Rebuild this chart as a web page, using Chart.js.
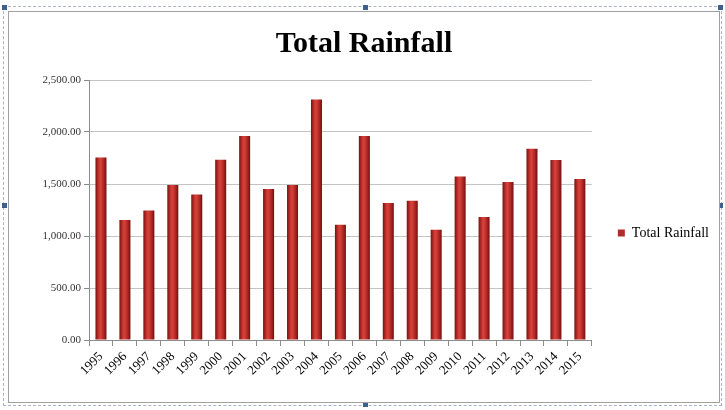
<!DOCTYPE html>
<html>
<head>
<meta charset="utf-8">
<script src="https://cdn.jsdelivr.net/npm/chart.js@4.4.0/dist/chart.umd.min.js"></script>
<style>
  html, body { margin: 0; padding: 0; background: #fff; }
  body { width: 725px; height: 410px; position: relative; overflow: hidden; }
  .sel { position: absolute; left: 3px; top: 6px; width: 717px; height: 398px; border: 1px dashed #a8b4c8; }
  .frame { position: absolute; left: 8px; top: 11px; width: 710px; height: 390px; border: 1px solid #a0a0a0; background: #fff; }
  .handle { position: absolute; width: 5px; height: 5px; background: #3f5f8f; }
</style>
</head>
<body>
<div class="sel"></div>
<div class="handle" style="left:2px;top:5px"></div>
<div class="handle" style="left:363px;top:5px"></div>
<div class="handle" style="left:718px;top:5px"></div>
<div class="handle" style="left:2px;top:203px"></div>
<div class="handle" style="left:718px;top:203px"></div>
<div class="handle" style="left:363px;top:402px"></div>
<div class="frame"><canvas id="rainChart" width="710" height="390"></canvas></div>
<script>
// years and rainfall totals
const years = ['1995', '1996', '1997', '1998', '1999', '2000', '2001', '2002', '2003', '2004', '2005',
  '2006', '2007', '2008', '2009', '2010', '2011', '2012', '2013', '2014', '2015'];
const rainfall = [1755, 1155, 1245, 1490, 1400, 1732, 1962, 1452, 1490, 2312, 1108,
  1962, 1318, 1338, 1060, 1572, 1183, 1520, 1840, 1730, 1547];
const yTicks = [0, 500, 1000, 1500, 2000, 2500];

const BAR_SHARE = 0.46;

// cylinder look: shading across each bar
function barFill(context) {
  const chart = context.chart;
  const xs = chart.scales.x;
  if (!xs || context.dataIndex === undefined) return '#b82a28';
  const cx = xs.getPixelForValue(context.dataIndex);
  const w = (xs.width / years.length) * BAR_SHARE;
  const g = chart.ctx.createLinearGradient(cx - w / 2, 0, cx + w / 2, 0);
  g.addColorStop(0, '#761212');
  g.addColorStop(0.3, '#c8342f');
  g.addColorStop(0.45, '#d6433c');
  g.addColorStop(0.75, '#b02622');
  g.addColorStop(1, '#6e1010');
  return g;
}

new Chart(document.getElementById('rainChart'), {
  type: 'bar',
  data: {
    labels: years,
    datasets: [{
      label: 'Total Rainfall',
      data: rainfall,
      backgroundColor: barFill,
      borderWidth: 0,
      categoryPercentage: 1,
      barPercentage: BAR_SHARE
    }]
  },
  options: {
    responsive: false,
    animation: false,
    layout: { padding: { left: 0, right: 0, top: 0, bottom: 4 } },
    plugins: {
      title: {
        display: true,
        text: 'Total Rainfall',
        color: '#000',
        font: { family: 'Liberation Serif', size: 30, weight: 'bold' },
        padding: { top: 14, bottom: 18 }
      },
      legend: {
        position: 'right',
        // empty title only pushes the single entry down, as in the picture
        title: { display: true, text: ' ', font: { size: 30 }, padding: 10 },
        labels: {
          color: '#000',
          font: { family: 'Liberation Serif', size: 14 },
          boxWidth: 7,
          boxHeight: 7,
          padding: 26,
          generateLabels: chart => [{
            text: 'Total Rainfall',
            fillStyle: '#b52a28',
            strokeStyle: '#b52a28',
            fontColor: '#000',
            lineWidth: 0,
            hidden: false,
            datasetIndex: 0
          }]
        }
      },
      tooltip: { enabled: false }
    },
    scales: {
      x: {
        afterFit: s => { s.height = 58; },
        grid: { display: true, drawOnChartArea: false, offset: true, tickLength: 6, color: '#8c8c8c' },
        border: { color: '#8c8c8c' },
        ticks: {
          color: '#000',
          font: { family: 'Liberation Serif', size: 13 },
          autoSkip: false,
          minRotation: 45,
          maxRotation: 45,
          padding: 3
        }
      },
      y: {
        min: 0,
        max: 2500,
        afterBuildTicks: s => { s.ticks = yTicks.map(v => ({ value: v })); },
        afterFit: s => { s.width = 80; },
        grid: { color: '#c4c4c4', tickLength: 5, tickColor: '#8c8c8c' },
        border: { color: '#8c8c8c' },
        ticks: {
          color: '#333',
          font: { family: 'Liberation Serif', size: 11 },
          padding: 3,
          callback: v => v.toLocaleString('en-US', { minimumFractionDigits: 2, maximumFractionDigits: 2 })
        }
      }
    }
  }
});
</script>
</body>
</html>
